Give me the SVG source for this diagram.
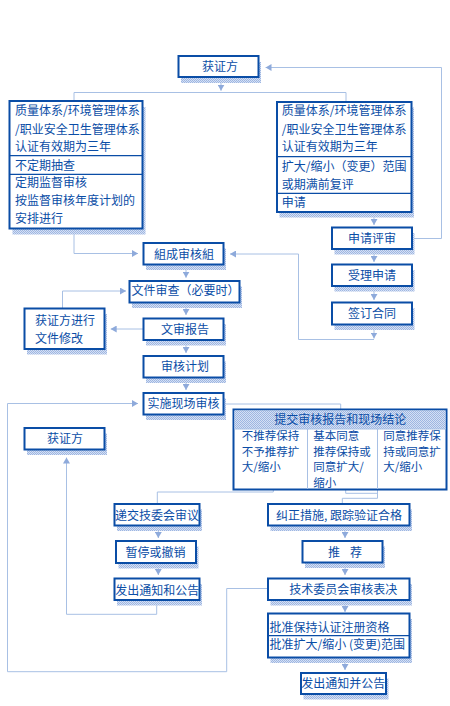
<svg xmlns="http://www.w3.org/2000/svg" width="450" height="706" viewBox="0 0 450 706">
<defs>
<style>
.box{fill:#fff;stroke:#0a4da6;stroke-width:2}
.div{stroke:#0a4da6;stroke-width:1.3;fill:none}
.ldiv{stroke:#a8c0e4;stroke-width:1;fill:none}
.sh{fill:url(#dots)}
.c{fill:none;stroke:#a8c0e4;stroke-width:1}
.a{marker-end:url(#ah)}
text{font-family:"Noto Sans CJK SC","Noto Sans",sans-serif;font-size:12px;fill:#0a4da6}
.m{text-anchor:middle}
.s{font-size:11.5px}
</style>
<pattern id="dots" width="2" height="2" patternUnits="userSpaceOnUse">
<rect width="2" height="2" fill="#d6e0f3"/>
<rect width="1" height="1" fill="#9db6e2"/>
<rect x="1" y="1" width="1" height="1" fill="#9db6e2"/>
</pattern>
<marker id="ah" viewBox="0 0 6 7" refX="6" refY="3.5" markerWidth="6" markerHeight="7" markerUnits="userSpaceOnUse" orient="auto">
<path d="M0,0 L6,3.5 L0,7 z" fill="#8eaadb"/>
</marker>
</defs>
<rect width="450" height="706" fill="#fff"/>

<g id="connectors">
<path class="c a" d="M221,77 V90.7"/>
<path class="c" d="M74,101 V92.5 H346 V102"/>
<path class="c a" d="M374,212 V225"/>
<path class="c a" d="M412,238.5 H441.5 V67.5 H265.5"/>
<path class="c a" d="M374,249 V262"/>
<path class="c a" d="M374,286 V300"/>
<path class="c a" d="M374,324.5 V338.5"/>
<path class="c a" d="M374,339.5 H298.5 V254 H230"/>
<path class="c a" d="M74,228.5 V253.5 H138"/>
<path class="c a" d="M186,264.5 V277.7"/>
<path class="c a" d="M62.5,308.5 V291 H126"/>
<path class="c a" d="M186,302.5 V315"/>
<path class="c a" d="M143.5,329 H110.7"/>
<path class="c a" d="M186,340 V353"/>
<path class="c a" d="M186,377.5 V390"/>
<path class="c" d="M223.5,404 H340.7 V409.5"/>
<path class="c" d="M273.3,489.5 V492 H157.3 V504"/>
<path class="c" d="M345.7,489.5 V493.3 H377.5"/>
<path class="c" d="M377.5,489.5 V498.3 H342.3 V504"/>
<path class="c a" d="M158.3,525.5 V538"/>
<path class="c a" d="M158.3,563 V575"/>
<path class="c a" d="M156.7,600 V614.3 H66.5 V457.5"/>
<path class="c a" d="M268,588.5 H226.7 V671.7 H7.5 V403.5 H138"/>
<path class="c a" d="M345,525.5 V538"/>
<path class="c a" d="M345,562.5 V575"/>
<path class="c a" d="M345,600 V612"/>
<path class="c a" d="M345,657.5 V670"/>
</g>

<g id="n1">
<rect class="sh" x="181" y="62" width="80" height="21"/>
<rect class="box" x="178.5" y="56" width="80" height="21"/>
<text class="m" x="220" y="70.5">获证方</text>
</g>

<g id="n2">
<rect class="sh" x="12.5" y="107" width="133" height="127.5"/>
<rect class="box" x="9.5" y="101" width="133" height="127.5"/>
<path class="div" d="M9.5,155.7 H142.5 M9.5,174.3 H142.5"/>
<text x="15" y="115">质量体系/环境管理体系</text>
<text x="15" y="134">/职业安全卫生管理体系</text>
<text x="15" y="151">认证有效期为三年</text>
<text x="15" y="169.5">不定期抽查</text>
<text x="15" y="187">定期监督审核</text>
<text x="15" y="205">按监督审核年度计划的</text>
<text x="15" y="223">安排进行</text>
</g>

<g id="n3">
<rect class="sh" x="279.5" y="107.5" width="134.5" height="110"/>
<rect class="box" x="277" y="102" width="134.5" height="110"/>
<path class="div" d="M277,156.7 H411.5 M277,193.3 H411.5"/>
<text x="281.7" y="115">质量体系/环境管理体系</text>
<text x="281.7" y="134">/职业安全卫生管理体系</text>
<text x="281.7" y="151">认证有效期为三年</text>
<text x="281.7" y="170.5">扩大/缩小（变更）范围</text>
<text x="281.7" y="188.5">或期满前复评</text>
<text x="281.7" y="207">申请</text>
</g>

<g id="n4">
<rect class="sh" x="334.5" y="233" width="80" height="21.5"/>
<rect class="box" x="332" y="227.5" width="80" height="21.5"/>
<text class="m" x="372" y="242.5">申请评审</text>
</g>

<g id="n5">
<rect class="sh" x="334.5" y="270" width="80" height="21.5"/>
<rect class="box" x="332" y="264.5" width="80" height="21.5"/>
<text class="m" x="372" y="280">受理申请</text>
</g>

<g id="n6">
<rect class="sh" x="334.5" y="308" width="80" height="22"/>
<rect class="box" x="332" y="302.5" width="80" height="22"/>
<text class="m" x="372" y="318">签订合同</text>
</g>

<g id="n7">
<rect class="sh" x="146" y="248.5" width="80" height="21.5"/>
<rect class="box" x="143.5" y="243" width="80" height="21.5"/>
<text class="m" x="184" y="258.5">組成审核組</text>
</g>

<g id="n8">
<rect class="sh" x="132" y="286.5" width="110" height="21.5"/>
<rect class="box" x="129.5" y="281" width="110" height="21.5"/>
<text class="m" x="185.5" y="294.5">文件审查（必要时）</text>
</g>

<g id="n9">
<rect class="sh" x="146" y="324" width="80" height="21.5"/>
<rect class="box" x="143.5" y="318.5" width="80" height="21.5"/>
<text class="m" x="185" y="334">文审报告</text>
</g>

<g id="n10">
<rect class="sh" x="27" y="314" width="80" height="40.5"/>
<rect class="box" x="24.5" y="308.5" width="80" height="40.5"/>
<text x="35" y="325">获证方进行</text>
<text x="35" y="343">文件修改</text>
</g>

<g id="n11">
<rect class="sh" x="146" y="361.5" width="80" height="21.5"/>
<rect class="box" x="143.5" y="356" width="80" height="21.5"/>
<text class="m" x="185" y="371">审核计划</text>
</g>

<g id="n12">
<rect class="sh" x="146" y="398.5" width="80" height="21.5"/>
<rect class="box" x="143.5" y="393" width="80" height="21.5"/>
<text class="m" x="183.5" y="408">实施现场审核</text>
</g>

<g id="n13">
<rect class="box" x="233.5" y="409.5" width="213" height="80"/>
<rect class="sh" x="234.5" y="410.5" width="211" height="18.5"/>
<path class="ldiv" d="M234.5,429 H445.5 M307.5,429 V489 M377.5,429 V489"/>
<text class="m" x="340.3" y="423.5">提交审核报告和现场结论</text>
<text class="s" x="241.7" y="440">不推荐保持</text>
<text class="s" x="241.7" y="455.5">不予推荐扩</text>
<text class="s" x="241.7" y="471">大/缩小</text>
<text class="s" x="313.3" y="440">基本同意</text>
<text class="s" x="313.3" y="455.5">推荐保持或</text>
<text class="s" x="313.3" y="471">同意扩大/</text>
<text class="s" x="313.3" y="486.5">缩小</text>
<text class="s" x="383.3" y="440">同意推荐保</text>
<text class="s" x="383.3" y="455.5">持或同意扩</text>
<text class="s" x="383.3" y="471">大/缩小</text>
</g>

<g id="n14">
<rect class="sh" x="27" y="433.5" width="80" height="21.5"/>
<rect class="box" x="24.5" y="428" width="80" height="21.5"/>
<text class="m" x="65" y="442.5">获证方</text>
</g>

<g id="n15">
<rect class="sh" x="117" y="509.5" width="85" height="21.5"/>
<rect class="box" x="114.5" y="504" width="85" height="21.5"/>
<text class="m" x="157" y="519.5">递交技委会审议</text>
</g>

<g id="n16">
<rect class="sh" x="118.5" y="546.5" width="80" height="22"/>
<rect class="box" x="116" y="541" width="80" height="22"/>
<text class="m" x="155.5" y="557">暂停或撤销</text>
</g>

<g id="n17">
<rect class="sh" x="117" y="584" width="85" height="21.5"/>
<rect class="box" x="114.5" y="578.5" width="85" height="21.5"/>
<text class="m" x="157.3" y="594.5">发出通知和公告</text>
</g>

<g id="n18">
<rect class="sh" x="270.5" y="509.5" width="141.5" height="21.5"/>
<rect class="box" x="268" y="504" width="141.5" height="21.5"/>
<text class="m" x="339" y="519.5">纠正措施, 跟踪验证合格</text>
</g>

<g id="n19">
<rect class="sh" x="305" y="546.5" width="80" height="21.5"/>
<rect class="box" x="302.5" y="541" width="80" height="21.5"/>
<text y="556.5"><tspan x="328">推</tspan><tspan x="350">荐</tspan></text>
</g>

<g id="n20">
<rect class="sh" x="270.5" y="584" width="141.5" height="21.5"/>
<rect class="box" x="268" y="578.5" width="141.5" height="21.5"/>
<text class="m" x="343.3" y="594">技术委员会审核表决</text>
</g>

<g id="n21">
<rect class="sh" x="270.5" y="619" width="141.5" height="44"/>
<rect class="box" x="268" y="613.5" width="141.5" height="44"/>
<path class="div" d="M268,635.7 H409.5"/>
<text x="269.5" y="632">批准保持认证注册资格</text>
<text x="269.5" y="648.5">批准扩大/缩小 (变更)范围</text>
</g>

<g id="n22">
<rect class="sh" x="303.5" y="678.5" width="85" height="21"/>
<rect class="box" x="301" y="673" width="85" height="21"/>
<text class="m" x="343.3" y="688">发出通知并公告</text>
</g>
</svg>
